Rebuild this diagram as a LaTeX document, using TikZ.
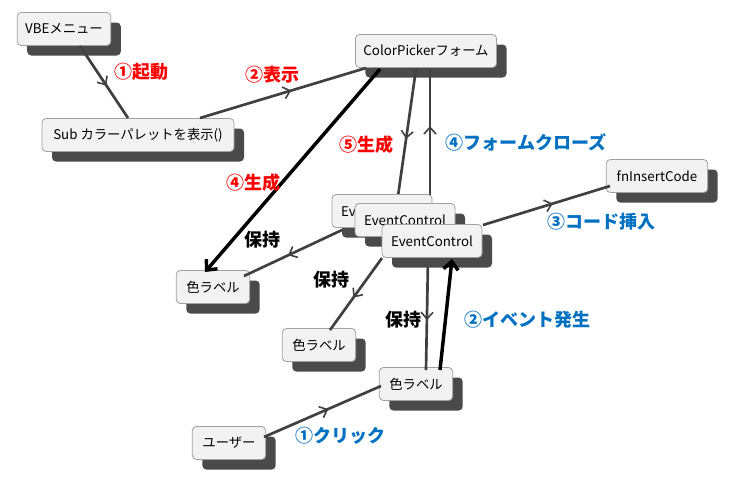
\documentclass[tikz,border=0pt]{standalone}
\usepackage{fontspec}
\setmainfont{Noto Sans CJK JP}
\usetikzlibrary{shadows,arrows.meta,decorations.markings}
\definecolor{edge}{HTML}{404040}
\definecolor{bxf}{HTML}{F2F2F2}
\definecolor{bxd}{HTML}{A0A0A0}
\definecolor{shd}{HTML}{4A4A4A}
\definecolor{lblue}{HTML}{0070C0}
\tikzset{
 box/.style={draw=bxd,fill=bxf,rounded corners=3pt,line width=0.6pt,font=\fontsize{10}{12}\selectfont,
   inner xsep=6pt,minimum height=24.75pt,anchor=center,
   drop shadow={shadow xshift=7.5pt,shadow yshift=-7.5pt,fill=shd,opacity=1,rounded corners=3pt}},
 ed/.style={draw=edge,line width=2pt,postaction={decorate},
   decoration={markings,mark=at position 0.55 with {\arrow[edge,line width=1.2pt]{Straight Barb[length=5pt,width=9pt]}}}},
 bk/.style={draw=black,line width=2.6pt,-{Straight Barb[length=6pt,width=11pt]}},
 rl/.style={text=red,font=\fontsize{13.5}{15}\selectfont\bfseries},
 bl/.style={text=lblue,font=\fontsize{13.5}{15}\selectfont\bfseries},
 kl/.style={text=black,font=\fontsize{13.5}{15}\selectfont\bfseries},
}
\begin{document}
\begin{tikzpicture}[x=0.75pt,y=-0.75pt]
\useasboundingbox[fill=white] (0,0) rectangle (742,501);
\node[box,minimum width=69pt] (vbe) at (64,29) {VBEメニュー};
\node[box,minimum width=144pt] (sub) at (138,135) {Sub カラーパレットを表示()};
\node[box,minimum width=103pt] (cp) at (426,51) {ColorPickerフォーム};
\node[box,minimum width=76pt] (fn) at (657,176) {fnInsertCode};
\node[box,minimum width=55pt] (l1) at (213,287) {色ラベル};
\node[box,minimum width=55pt] (l2) at (319,345) {色ラベル};
\node[box,minimum width=55pt] (l3) at (416,384) {色ラベル};
\node[box,minimum width=55pt] (u) at (229,443) {ユーザー};
\coordinate (a1) at (80,46); \coordinate (b1) at (128,118);
\coordinate (a2) at (200,118); \coordinate (b2) at (366,68);
\coordinate (a3) at (416,69); \coordinate (b3) at (398,196);
\coordinate (a4) at (430,196); \coordinate (b4) at (430,69);
\coordinate (a5) at (342,230); \coordinate (b5) at (244,276);
\coordinate (a6) at (382,258); \coordinate (b6) at (330,330);
\coordinate (a7) at (428,259); \coordinate (b7) at (426,370);
\coordinate (a8) at (483,225); \coordinate (b8) at (610,186);
\coordinate (a9) at (264,437); \coordinate (b9) at (381,386);
\path[ed] (a1) -- (b1);
\path[ed] (a2) -- (b2);
\path[ed] (a3) -- (b3);
\path[ed] (a4) -- (b4);
\path[ed] (a5) -- (b5);
\path[ed] (a6) -- (b6);
\path[ed] (a7) -- (b7);
\path[ed] (a8) -- (b8);
\path[ed] (a9) -- (b9);
\node[box,minimum width=75pt] (e1) at (382,211) {EventControl};
\node[box,minimum width=75pt] (e2) at (405,220) {EventControl};
\node[box,minimum width=75pt] (e3) at (432,241) {EventControl};
\coordinate (k1) at (380,69); \coordinate (k2) at (205,272);
\coordinate (k3) at (440,370); \coordinate (k4) at (452,259);
\draw[bk] (k1) -- (k2);
\draw[bk] (k3) -- (k4);
\node[rl] at (141,72) {①起動};
\node[rl] at (272,75) {②表示};
\node[rl] at (253,183) {④生成};
\node[rl] at (366,145) {⑤生成};
\node[bl] at (526,142) {④フォームクローズ};
\node[bl] at (601,222) {③コード挿入};
\node[bl] at (527,320) {②イベント発生};
\node[bl] at (340,436) {①クリック};
\node[kl] at (262,240) {保持};
\node[kl] at (331,280) {保持};
\node[kl] at (403,320) {保持};
\end{tikzpicture}
\end{document}
